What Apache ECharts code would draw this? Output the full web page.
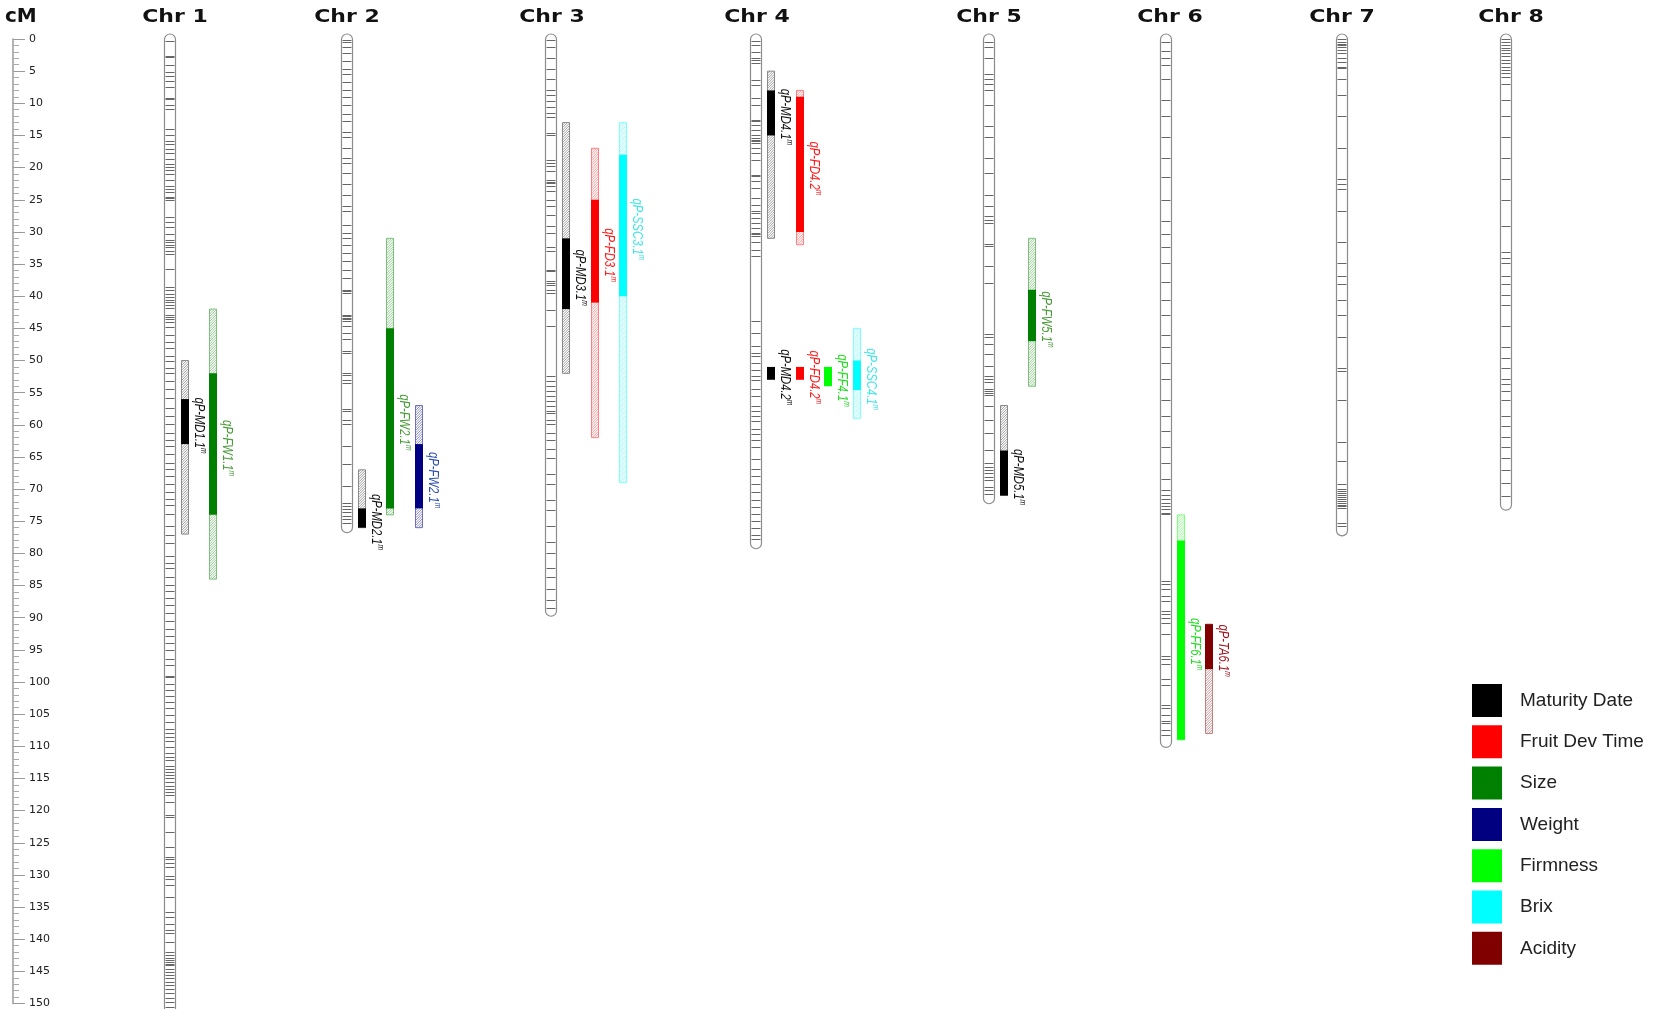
<!DOCTYPE html>
<html>
<head>
<meta charset="utf-8">
<script src="https://cdn.jsdelivr.net/npm/echarts@6/dist/echarts.min.js"></script>
<style>
  html, body { margin: 0; padding: 0; background: #fff; }
  #chart { width: 1653px; height: 1009px; }
</style>
</head>
<body>
<div id="chart"></div>
<script>
// Linkage groups and their lengths (cM)
const chromosomes = ['Chr 1', 'Chr 2', 'Chr 3', 'Chr 4', 'Chr 5', 'Chr 6', 'Chr 7', 'Chr 8'];
const chromLength = [153, 76, 89, 78.5, 71.5, 109.4, 76.5, 72.5];

// Marker positions (cM) on each linkage group
const markersChr1 = [0.3, 2.6, 2.85, 4.1, 5.2, 5.7, 6.5, 7.5, 9.1, 9.3, 10.3, 10.9, 14, 15, 15.8, 16.3, 17.1, 17.8, 18.6, 19.4, 19.9, 20.4, 21, 22, 22.8, 23.3, 23.8, 24.6, 24.8, 25.1, 27.7, 28.5, 29.2, 30.3, 31.3, 31.6, 32.1, 32.3, 32.9, 33.4, 35.7, 38.5, 39.1, 39.6, 40.1, 40.6, 40.9, 41.4, 41.9, 42.9, 43.2, 43.5, 44, 44.8, 46, 47.1, 48.1, 49.3, 50.1, 51.1, 52, 53.2, 54.5, 55.8, 57.4, 58.6, 59.9, 61.2, 62.4, 63.3, 64.6, 65.9, 66.8, 67.9, 69.2, 70.5, 71.5, 72.5, 73.8, 75.8, 77.1, 78.4, 80.4, 81.5, 82.3, 83.6, 84.9, 85.9, 86.9, 88.1, 89.2, 90.5, 91.7, 92.8, 93.9, 95.1, 96.4, 97.4, 99, 99.2, 100.3, 101.3, 102.1, 103.1, 104.1, 105.2, 106.2, 107.3, 108, 108.5, 109.1, 110.1, 111.1, 111.7, 112.2, 113, 113.5, 114, 114.5, 115, 115.5, 116.1, 116.6, 117.1, 117.6, 118.7, 120.7, 121, 123.3, 125.6, 127.2, 127.5, 128.2, 128.8, 130.1, 130.6, 131.6, 133.4, 135.8, 136.5, 137.6, 138.6, 139.1, 140.4, 142, 142.5, 143, 143.3, 143.5, 143.8, 144, 144.6, 145.1, 145.6, 146.1, 146.6, 147.2, 147.7, 148.4, 149.2, 149.7, 150.6, 151.5];
const markersChr2 = [0.2, 0.5, 1.3, 2.1, 3.4, 4.6, 5.4, 6.7, 7.9, 9, 10.3, 11.6, 12.8, 14.4, 15.2, 16.9, 18.5, 19.3, 20.9, 22.6, 24.2, 25.9, 26.7, 28.9, 30.2, 30.9, 32, 33.3, 34.6, 35.9, 37.2, 39, 39.2, 39.5, 42.9, 43.1, 43.4, 43.6, 43.9, 44.7, 45.7, 46.7, 48.6, 48.8, 51.9, 52.2, 53, 53.5, 57.6, 57.9, 59.2, 59.9, 63.3, 66.1, 69.5, 72.1, 72.6, 73.1, 73.6, 74.2, 74.7, 75.2];
const markersChr3 = [0.2, 1.3, 2.9, 4.6, 6.2, 7.9, 8.7, 9.7, 10.5, 11.5, 12.1, 14.6, 14.9, 18.8, 19.3, 19.8, 20.6, 21.9, 22.2, 22.4, 22.9, 23.7, 25, 26, 27.3, 29.1, 30.2, 32.3, 33, 35.9, 36.1, 37.7, 37.9, 38.2, 39, 39.5, 42.1, 44.7, 52.4, 53.2, 54, 54.8, 55.5, 56.3, 57.1, 57.9, 58.1, 59.2, 59.9, 61.2, 62.3, 63.8, 65.1, 67.6, 69.2, 71.7, 73.3, 75.8, 78.2, 79.9, 82.3, 83.6, 85.6, 87.2, 88.5];
const markersChr4 = [0.3, 1, 2, 3, 3.3, 3.8, 6.4, 7.2, 9.2, 10.2, 12.6, 12.8, 13.3, 14.1, 14.9, 15.4, 15.7, 15.9, 16.2, 16.9, 17.7, 18.8, 21.1, 21.3, 22.1, 23.2, 24.7, 25.8, 26.8, 27.1, 27.8, 28.6, 29.4, 30.2, 30.4, 30.7, 31.5, 32.8, 33.8, 43.9, 45.7, 47.8, 48.8, 49.3, 50.4, 51.4, 52.4, 53, 54.5, 55.5, 57.1, 57.9, 58.6, 59.4, 60.7, 61.5, 62.4, 63.5, 65.3, 66.8, 67.9, 69.2, 70.5, 71.7, 72.8, 73.8, 75, 76.1, 77.1, 77.7];
const markersChr5 = [0.5, 1.3, 2.9, 5.4, 6.2, 7, 7.9, 10.3, 13.6, 15.2, 18.5, 20.9, 24.2, 25.9, 27.5, 28.1, 28.6, 31.9, 32.2, 35.3, 37.9, 45.9, 46.4, 47.5, 49, 50.9, 52.4, 52.9, 53.4, 54.5, 54.8, 55, 55.3, 57.1, 59.2, 61.3, 63.9, 66, 66.5, 67, 67.5, 68.1, 68.6, 69.6, 70.2, 70.7];
const markersChr6 = [0.5, 1.8, 2.9, 4.1, 6.2, 9.5, 11.9, 15.2, 18.5, 21.4, 25, 28.3, 30.3, 32.4, 34.9, 37.8, 40.6, 43, 46, 47.9, 50.4, 52.8, 56.1, 58.6, 61, 63.5, 66, 68.4, 70.1, 70.9, 71.6, 72.1, 72.6, 73.1, 73.7, 73.9, 84.3, 84.8, 85.6, 86.6, 87.4, 88.9, 89.4, 90, 90.8, 92.6, 96, 96.5, 97.2, 99.6, 100.4, 103.5, 104, 105.1, 106.1, 106.4, 107.5, 108.3];
const markersChr7 = [0.05, 0.4, 0.7, 0.9, 1.2, 1.7, 2.2, 3, 3.5, 4.3, 4.5, 6.2, 8.7, 11.9, 16.9, 21.8, 22.6, 23.4, 26.7, 31.6, 34.9, 36.8, 38.1, 40.6, 43, 46.3, 51.2, 51.6, 56.1, 62.7, 65.6, 69.2, 70, 70.3, 70.6, 70.9, 71.2, 71.5, 71.8, 72.1, 72.4, 72.7, 72.9, 75.2, 75.7];
const markersChr8 = [0.05, 0.4, 0.9, 1.45, 1.7, 2.2, 2.7, 3.3, 3.8, 4.3, 4.8, 5.3, 5.9, 7, 9.5, 11.9, 15.2, 18.5, 21.8, 25, 29.1, 33.2, 34, 34.9, 36.8, 38.1, 39.8, 41.4, 44.7, 47.9, 49.6, 51.2, 52.9, 53.7, 54.8, 56.1, 58.6, 60.2, 61.9, 63.5, 65.1, 67, 69, 71];
const markers = [markersChr1, markersChr2, markersChr3, markersChr4, markersChr5, markersChr6, markersChr7, markersChr8];

// Traits and their colours
const traits = ['Maturity Date', 'Fruit Dev Time', 'Size', 'Weight', 'Firmness', 'Brix', 'Acidity'];
const traitColor = ['#000000', '#ff0000', '#008000', '#000080', '#00ff00', '#00ffff', '#800000'];
const traitLabelColor = ['#111111', '#ff1a1a', '#4a9a3a', '#2f4fb0', '#22dd22', '#3fe6e6', '#a0141e'];
const traitHatchColor = ['#8a8a8a', '#ff8080', '#7cc07c', '#7070c0', '#80ff80', '#80ffff', '#c08080'];

// QTL: name, linkage group, trait, interval bounds (cM)
const qtlName    = ['qP-MD1.1', 'qP-FW1.1', 'qP-MD2.1', 'qP-FW2.1', 'qP-FW2.1', 'qP-MD3.1', 'qP-FD3.1', 'qP-SSC3.1', 'qP-MD4.1', 'qP-FD4.2', 'qP-MD4.2', 'qP-FD4.2', 'qP-FF4.1', 'qP-SSC4.1', 'qP-FW5.1', 'qP-MD5.1', 'qP-FF6.1', 'qP-TA6.1'];
const qtlChrom   = [0, 0, 1, 1, 1, 2, 2, 2, 3, 3, 3, 3, 3, 3, 4, 4, 5, 5];
const qtlTrait   = [0, 2, 0, 2, 3, 0, 1, 5, 0, 1, 0, 1, 4, 5, 2, 0, 4, 6];
const qtlCiStart = [50, 42, 67, 31, 57, 13, 17, 13, 5, 8, 51, 51, 51, 45, 31, 57, 74, 91];
const qtlStart   = [56, 52, 73, 45, 63, 31, 25, 18, 8, 9, 51, 51, 51, 50, 39, 64, 78, 91];
const qtlEnd     = [63, 74, 76, 73, 73, 42, 41, 40, 15, 30, 53, 53, 54, 54.6, 47, 71, 109, 98];
const qtlCiEnd   = [77, 84, 76, 74, 76, 52, 62, 69, 31, 32, 53, 53, 54, 59, 54, 71, 109, 108];

// Layout: horizontal column of each linkage group and lane of each QTL bar
const chromCenter = [156, 333, 537.5, 742.5, 975, 1152, 1328, 1492];
const titleShift = [6, 1, 1.5, 1.5, 1, 5, 1, 6];
const qtlLane = [0, 1, 0, 1, 2, 0, 1, 2, 0, 1, 0, 1, 2, 3, 1, 0, 0, 1];
const LANE_START = 15, LANE_STEP = 28.5, QTL_W = 7, CHROM_W = 11;

const labelFont = '"Liberation Sans", sans-serif';

function renderChrom(params, api) {
  const i = api.value(0);
  const top = api.coord([chromCenter[i], 0]);
  const bot = api.coord([chromCenter[i], api.value(1)]);
  const x = Math.round(top[0] - CHROM_W / 2) + 0.5;
  return {
    type: 'group',
    children: [
      { type: 'rect', shape: { x: x, y: top[1] - 5, width: CHROM_W, height: bot[1] - top[1] + 10, r: CHROM_W / 2 },
        style: { fill: '#fff', stroke: '#8c8c8c', lineWidth: 1.2 } },
      { type: 'text', x: top[0] + titleShift[i], y: top[1] - 22, scaleX: 1.22,
        style: { text: chromosomes[i], fill: '#111', align: 'center', verticalAlign: 'middle',
                 font: 'bold 18px "DejaVu Sans", sans-serif' } }
    ]
  };
}

function renderMarker(params, api) {
  const i = api.value(0);
  const p = api.coord([chromCenter[i], api.value(1)]);
  const y = Math.round(p[1]) + 0.5;
  const x = Math.round(p[0] - CHROM_W / 2) + 0.5;
  return { type: 'line', shape: { x1: x + 1, y1: y, x2: x + CHROM_W - 1, y2: y },
           style: { stroke: '#666666', lineWidth: 1 } };
}

function hatchLines(x0, y0, w, y1, color) {
  const out = [];
  const step = 2.5;
  for (let k = y0; k <= y1 + w; k += step) {
    const tMin = Math.max(0, k - y1), tMax = Math.min(w, k - y0);
    if (tMax <= tMin) continue;
    out.push({ type: 'line', shape: { x1: x0 + tMin, y1: k - tMin, x2: x0 + tMax, y2: k - tMax },
               style: { stroke: color, lineWidth: 0.8 } });
  }
  return out;
}

function renderQtl(params, api) {
  const q = api.value(0);
  const t = qtlTrait[q];
  const cx = chromCenter[qtlChrom[q]];
  const xc = api.coord([cx, 0])[0] + LANE_START + LANE_STEP * qtlLane[q];
  const x0 = Math.round(xc - QTL_W / 2);
  const yCi0 = api.coord([cx, api.value(1)])[1];
  const yS0 = api.coord([cx, api.value(2)])[1];
  const yS1 = api.coord([cx, api.value(3)])[1];
  const yCi1 = api.coord([cx, api.value(4)])[1];
  const children = [];
  if (yCi1 - yCi0 > yS1 - yS0 + 0.5) {
    children.push({ type: 'rect', shape: { x: x0 + 0.5, y: yCi0, width: QTL_W, height: yCi1 - yCi0 },
                    style: { fill: '#fff', stroke: traitHatchColor[t], lineWidth: 1 } });
    hatchLines(x0 + 0.5, yCi0, QTL_W, yCi1, traitHatchColor[t]).forEach(c => children.push(c));
  }
  children.push({ type: 'rect', shape: { x: x0, y: yS0, width: QTL_W + 1, height: yS1 - yS0 },
                  style: { fill: traitColor[t] } });
  const color = traitLabelColor[t];
  // rotated label reading downwards; scaleX narrows the glyphs along the reading direction
  children.push({
    type: 'text', x: x0 + QTL_W + 3, y: (yS0 + yS1) / 2 + 4, rotation: -Math.PI / 2, scaleX: 0.75,
    style: {
      text: '{n|' + qtlName[q] + '}{s|m}',
      align: 'center', verticalAlign: 'bottom',
      rich: {
        n: { fontSize: 15, fontStyle: 'italic', fontFamily: labelFont, fill: color, lineHeight: 17 },
        s: { fontSize: 9, fontStyle: 'italic', fontFamily: labelFont, fill: color, verticalAlign: 'top', lineHeight: 17 }
      }
    }
  });
  return { type: 'group', children: children };
}

const chromData = chromosomes.map((c, i) => [i, chromLength[i]]);
const markerData = [];
markers.forEach((list, i) => list.forEach(m => markerData.push([i, m])));

const qtlSeries = traits.map((name, t) => ({
  name: name,
  type: 'custom',
  renderItem: renderQtl,
  clip: false,
  z: 4,
  itemStyle: { color: traitColor[t] },
  encode: { x: -1, y: [1, 2, 3, 4] },
  data: qtlName.map((n, q) => [q, qtlCiStart[q], qtlStart[q], qtlEnd[q], qtlCiEnd[q]]).filter(d => qtlTrait[d[0]] === t)
}));

const chart = echarts.init(document.getElementById('chart'), null, { renderer: 'canvas' });
chart.setOption({
  animation: false,
  backgroundColor: '#fff',
  grid: { left: 13, right: 0, top: 39, bottom: 4 },
  xAxis: { type: 'value', min: 0, max: 1640, show: false },
  yAxis: {
    type: 'value', min: 0, max: 150, interval: 5, inverse: true,
    name: 'cM', nameLocation: 'start', nameGap: 12,
    nameTextStyle: { fontFamily: 'DejaVu Sans', fontWeight: 'bold', fontSize: 20, color: '#111', align: 'left', padding: [0, 0, 0, -8] },
    axisLine: { show: true, lineStyle: { color: '#9a9a9a', width: 1.5 } },
    axisTick: { show: true, inside: true, length: 12, lineStyle: { color: '#9a9a9a' } },
    minorTick: { show: true, splitNumber: 5, length: 6, lineStyle: { color: '#aaaaaa' } },
    axisLabel: { inside: true, margin: 16, fontSize: 11, color: '#222', fontFamily: 'DejaVu Sans' },
    splitLine: { show: false }
  },
  legend: {
    orient: 'vertical', left: 1472, top: 684, padding: 0, itemWidth: 30, itemHeight: 33, itemGap: 8.3,
    icon: 'rect', selectedMode: false, data: traits,
    textStyle: { fontSize: 19, color: '#222', fontFamily: 'Liberation Sans', padding: [0, 0, 0, 13] }
  },
  series: [
    { name: 'chromosomes', type: 'custom', renderItem: renderChrom, clip: false, z: 1,
      encode: { x: -1, y: 1 }, data: chromData },
    { name: 'markers', type: 'custom', renderItem: renderMarker, clip: false, z: 2,
      encode: { x: -1, y: 1 }, data: markerData }
  ].concat(qtlSeries)
});
</script>
</body>
</html>
